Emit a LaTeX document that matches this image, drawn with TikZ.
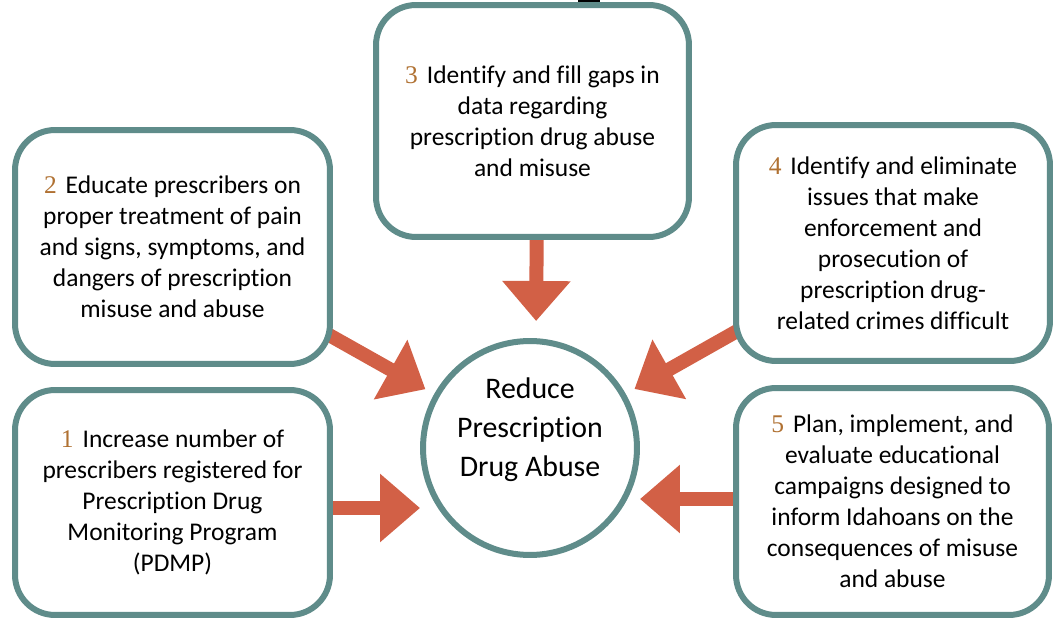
\documentclass[tikz,border=0pt]{standalone}
\usepackage{fontspec}
\setmainfont{Carlito}[Ligatures={NoCommon}]
\newfontfamily\numfont{Liberation Serif}
\usepackage{xcolor}
\usetikzlibrary{arrows.meta, positioning, backgrounds}
\definecolor{framecolor}{RGB}{95, 140, 138}
\definecolor{pushcolor}{RGB}{210, 96, 70}
\definecolor{numcolor}{RGB}{176, 113, 50}
\newcommand{\goalnum}[1]{{\numfont\color{numcolor}#1}\hspace{0.35em}}

\begin{document}
\begin{tikzpicture}[
    x=0.02cm, y=-0.02cm,
    objective/.style={draw=framecolor, line width=0.12cm, fill=white, rounded corners=0.8cm, align=center, inner sep=0pt, font=\fontsize{14.5}{17.6}\selectfont},
    goal/.style={circle, draw=framecolor, line width=0.12cm, fill=white, minimum size=4.28cm, inner sep=0pt},
    goaltext/.style={align=center, font=\fontsize{17}{22.2}\selectfont},
    push/.style={pushcolor, line width=0.28cm, -{Triangle[length=0.8cm, width=1.32cm]}}
]
    \useasboundingbox (0,0) rectangle (1055,621);

    % Central goal
    \node[goal] (goal) at (530,448) {};
    \node[goaltext] (goaltitle) at ([yshift=0.36cm]goal.center) {Reduce\\Prescription\\Drug Abuse};

    % Objectives
    \node[objective, minimum width=6.26cm, minimum height=4.64cm] (obj3) at (532.5,121)
        {\goalnum{3}Identify and fill gaps in\\data regarding\\prescription drug abuse\\and misuse};
    \node[objective, minimum width=6.30cm, minimum height=4.68cm] (obj2) at (172.5,247)
        {\goalnum{2}Educate prescribers on\\proper treatment of pain\\and signs, symptoms, and\\dangers of prescription\\misuse and abuse};
    \node[objective, minimum width=6.28cm, minimum height=4.72cm] (obj4) at (893,243)
        {\goalnum{4}Identify and eliminate\\issues that make\\enforcement and\\prosecution of\\prescription drug-\\related crimes difficult};
    \node[objective, minimum width=6.30cm, minimum height=4.50cm] (obj1) at (172.5,502.5)
        {\goalnum{1}Increase number of\\prescribers registered for\\Prescription Drug\\Monitoring Program\\(PDMP)};
    \node[objective, minimum width=6.26cm, minimum height=4.54cm] (obj5) at (892.5,501.5)
        {\goalnum{5}Plan, implement, and\\evaluate educational\\campaigns designed to\\inform Idahoans on the\\consequences of misuse\\and abuse};

    % Arrows into the goal
    \begin{scope}[on background layer]
        \fill (578,0) rectangle (600,3.5);
        \draw[push, shorten >=0.34cm] ([xshift=0.1cm]obj3.center) -- ([xshift=0.12cm]goal.north);
        \draw[push, shorten >=0.2cm] (obj2.center) -- (goal);
        \draw[push, shorten >=0.2cm] (obj4.center) -- (goal);
        \draw[push] ([yshift=-0.11cm]obj1.center) -- ([yshift=-0.11cm]obj1.center -| goal.west);
        \draw[push] ([yshift=0.05cm]obj5.center) -- ([yshift=0.05cm]obj5.center -| goal.east);
    \end{scope}
\end{tikzpicture}
\end{document}
